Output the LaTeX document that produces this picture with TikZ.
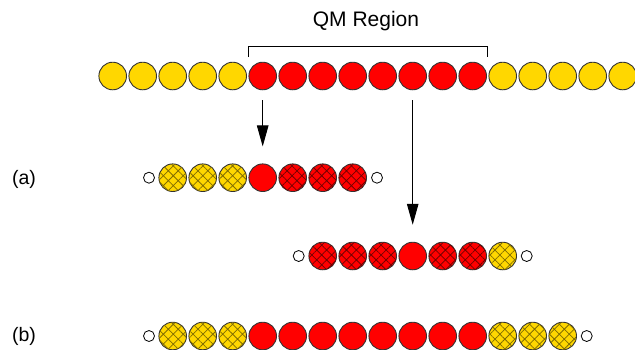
\documentclass[tikz,border=0pt]{standalone}
\usepackage{fontspec}
\setmainfont{Liberation Sans}
\usetikzlibrary{arrows.meta,patterns.meta}
\definecolor{mmyellow}{HTML}{FFD700}
\definecolor{qmred}{HTML}{FF0000}
\tikzset{
  atom/.style={circle,draw=black!80,line width=0.9pt,minimum size=27.6pt,inner sep=0pt},
  mm/.style={atom,fill=mmyellow},
  qm/.style={atom,fill=qmred},
  mmx/.style={mm,postaction={pattern={Hatch[angle=45,distance=7pt,line width=0.75pt]},pattern color=black!50!mmyellow}},
  qmx/.style={qm,postaction={pattern={Hatch[angle=45,distance=7pt,line width=0.75pt]},pattern color=black!55!qmred}},
  linkatom/.style={circle,draw,line width=0.8pt,fill=white,minimum size=11pt,inner sep=0pt},
  arr/.style={-{Triangle[length=21pt,width=11.5pt]},line width=1pt}
}
\begin{document}
\begin{tikzpicture}[x=1pt,y=-1pt,font=\fontsize{19.5}{23}\selectfont]
  \useasboundingbox (0,0) rectangle (635,349);
  \foreach \i in {1,...,5} \node[mm] (t\i) at ({82.7+30*\i},76) {};
  \foreach \i in {6,...,13} \node[qm] (t\i) at ({82.7+30*\i},76) {};
  \foreach \i in {14,...,18} \node[mm] (t\i) at ({82.7+30*\i},76) {};
  \draw[line width=0.9pt] (t6.west |- 0,57) -- ++(0,-11) -| (t13.east |- 0,57);
  \node[anchor=base,font=\fontsize{21}{25}\selectfont] (qmlabel) at (366,26.7) {QM Region};
  \node[anchor=base] (alabel) at (24,184.5) {(a)};
  \node[anchor=base] (blabel) at (24,341.5) {(b)};
  \node[linkatom] (a0) at (149,177.7) {};
  \foreach \i in {1,2,3} \node[mmx] (a\i) at ({142.7+30*\i},177.7) {};
  \node[qm] (a4) at (262.7,177.7) {};
  \foreach \i in {5,6,7} \node[qmx] (a\i) at ({142.7+30*\i},177.7) {};
  \node[linkatom] (a8) at (377,177.7) {};
  \node[linkatom] (c0) at (298.7,256) {};
  \foreach \i in {1,2,3,5,6} \node[qmx] (c\i) at ({292.7+30*\i},256) {};
  \node[qm] (c4) at (412.7,256) {};
  \node[mmx] (c7) at (502.7,256) {};
  \node[linkatom] (c8) at (526.7,256) {};
  \node[linkatom] (b0) at (149,336) {};
  \foreach \i in {1,2,3,12,13,14} \node[mmx] (b\i) at ({142.7+30*\i},336) {};
  \foreach \i in {4,...,11} \node[qm] (b\i) at ({142.7+30*\i},336) {};
  \node[linkatom] (b15) at (586.7,336) {};
  \draw[arr,shorten <=10pt,shorten >=17pt] (t6.south) -- (a4.north);
  \draw[arr,shorten <=10pt,shorten >=17pt] (t11.south) -- (c4.north);
\end{tikzpicture}
\end{document}
